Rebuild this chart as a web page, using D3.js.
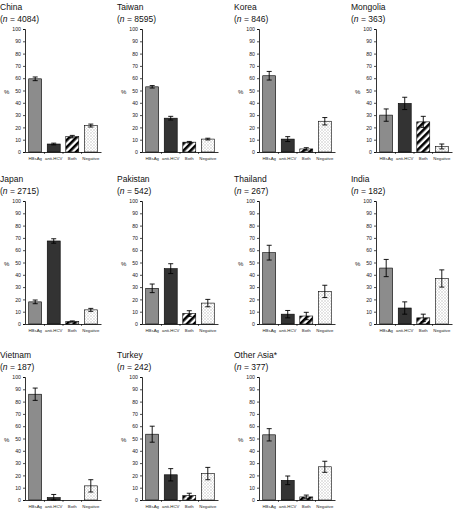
<!DOCTYPE html>
<html><head><meta charset="utf-8">
<script src="https://cdn.jsdelivr.net/npm/d3@7"></script>
<style>body{margin:0;background:#fff}svg{display:block}text{font-family:"Liberation Sans",Arial,sans-serif}</style>
</head><body>
<svg id="c" width="453" height="510"></svg>
<script>
const categories = ["HBsAg", "anti-HCV", "Both", "Negative"];
const countries = ["China","Taiwan","Korea","Mongolia","Japan","Pakistan","Thailand","India","Vietnam","Turkey","Other Asia*"];
const sampleSizes = [4084, 8595, 846, 363, 2715, 542, 267, 182, 187, 242, 377];
const valHBsAg   = [59.5, 53, 62, 30, 18, 29, 58, 45.5, 86, 53.5, 53];
const valAntiHCV = [6.5, 27.5, 10.5, 39.5, 67.5, 45, 8, 13, 2, 20.5, 16];
const valBoth    = [12.5, 8, 2.5, 24.5, 2, 8.5, 6.5, 5, 0, 3.5, 2.5];
const valNeg     = [21.5, 10.5, 25, 4.5, 11.5, 17, 26.5, 37, 11.5, 21.5, 27];
const errHBsAg   = [1.5, 1, 3.5, 5, 1.5, 3.5, 6, 7, 5, 6.5, 5];
const errAntiHCV = [0.7, 1.5, 2, 5, 1.8, 4, 3, 5, 2.5, 5, 3.5];
const errBoth    = [1, 0.6, 1, 4.5, 0.5, 2.3, 3, 3, 0, 2, 1.5];
const errNeg     = [1.2, 0.7, 3, 2, 1.2, 3, 5, 7, 5, 5, 4.5];
const yTicks = [0,10,20,30,40,50,60,70,80,90,100];

const svg = d3.select("#c");
const defs = svg.append("defs");
const stripe = defs.append("pattern").attr("id","stripes").attr("patternUnits","userSpaceOnUse")
  .attr("width",5).attr("height",5).attr("patternTransform","rotate(45)");
stripe.append("rect").attr("width",5).attr("height",5).attr("fill","#fff");
stripe.append("rect").attr("width",2.6).attr("height",5).attr("fill","#000");
const dots = defs.append("pattern").attr("id","dots").attr("patternUnits","userSpaceOnUse")
  .attr("width",3).attr("height",3);
dots.append("rect").attr("width",3).attr("height",3).attr("fill","#fff");
dots.append("rect").attr("x",0.5).attr("y",0.5).attr("width",1).attr("height",1).attr("fill","#9a9a9a");
dots.append("rect").attr("x",2).attr("y",2).attr("width",0.8).attr("height",0.8).attr("fill","#c8c8c8");

const fills = ["#8c8c8c", "#333333", "url(#stripes)", "url(#dots)"];
const colX = [25, 142, 259, 376];
const rowTop = [29, 201, 377];
const H = 123, W = 76;

countries.forEach((name, i) => {
  const col = i % 4, row = Math.floor(i / 4);
  const x0 = colX[col], yTop = rowTop[row];
  const g = svg.append("g");
  const y = d3.scaleLinear().domain([0,100]).range([yTop+H, yTop]);
  const x = d3.scaleBand().domain(categories).range([x0, x0+W]).paddingInner(0.3).paddingOuter(0.2);
  const vals = [valHBsAg[i], valAntiHCV[i], valBoth[i], valNeg[i]];
  const errs = [errHBsAg[i], errAntiHCV[i], errBoth[i], errNeg[i]];

  // title
  g.append("text").attr("x", x0-25).attr("y", yTop-19).attr("font-size", 8.5).attr("fill","#111").text(name);
  const t2 = g.append("text").attr("x", x0-25).attr("y", yTop-7).attr("font-size", 8.5).attr("fill","#111");
  t2.append("tspan").text("(");
  t2.append("tspan").attr("font-style","italic").text("n");
  t2.append("tspan").text(" = " + sampleSizes[i] + ")");

  // y axis
  const ya = g.append("g").attr("transform",`translate(${x0},0)`)
    .call(d3.axisLeft(y).tickValues(yTicks).tickSize(2).tickPadding(2));
  ya.selectAll("text").attr("font-size",5.2).attr("fill","#222");
  ya.select(".domain").attr("stroke","#000").attr("stroke-width",0.8);
  ya.selectAll(".tick line").attr("stroke","#000").attr("stroke-width",0.7);
  g.append("text").attr("x", x0-21).attr("y", y(47)).attr("font-size",6).attr("fill","#222").text("%");

  // bars
  categories.forEach((c, k) => {
    g.append("rect").attr("x", x(c)).attr("y", y(vals[k])).attr("width", x.bandwidth())
      .attr("height", y(0)-y(vals[k])).attr("fill", fills[k]).attr("stroke","#000").attr("stroke-width",0.6);
    if (errs[k] > 0) {
      const cx = x(c) + x.bandwidth()/2;
      const lo = Math.max(0, vals[k]-errs[k]), hi = vals[k]+errs[k];
      g.append("line").attr("x1",cx).attr("x2",cx).attr("y1",y(lo)).attr("y2",y(hi)).attr("stroke","#000").attr("stroke-width",0.9);
      [lo,hi].forEach(v => g.append("line").attr("x1",cx-2.5).attr("x2",cx+2.5).attr("y1",y(v)).attr("y2",y(v)).attr("stroke","#000").attr("stroke-width",0.9));
    }
  });

  // x axis
  const xa = g.append("g").attr("transform",`translate(0,${yTop+H})`)
    .call(d3.axisBottom(x).tickSize(0).tickPadding(5));
  xa.select(".domain").attr("stroke","#000").attr("stroke-width",0.8);
  xa.selectAll("text").attr("font-size",4.3).attr("fill","#222");
  const bounds = categories.slice(1).map(c => x(c) - x.step()*x.paddingInner()/2);
  xa.selectAll(".sep").data(bounds).join("line").attr("class","sep")
    .attr("x1",d=>d).attr("x2",d=>d).attr("y1",0).attr("y2",2).attr("stroke","#000").attr("stroke-width",0.6);
});
</script>
</body></html>
